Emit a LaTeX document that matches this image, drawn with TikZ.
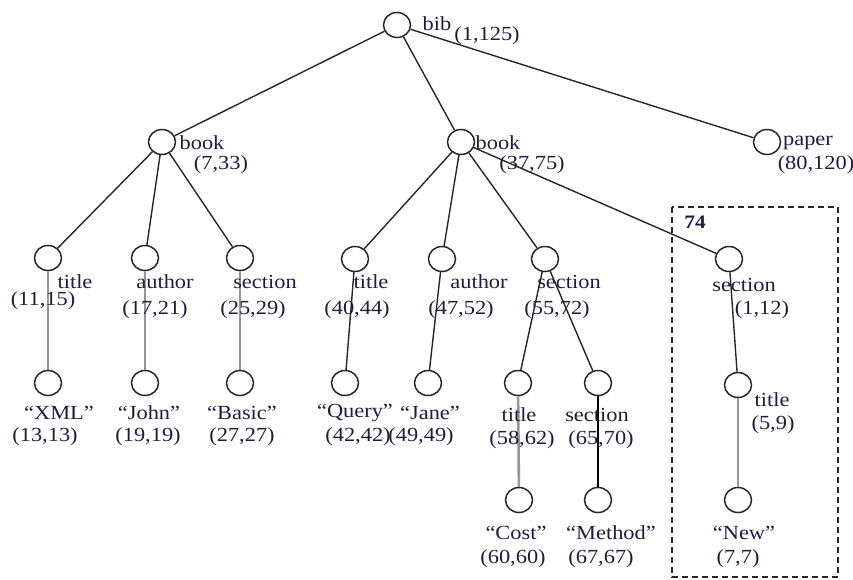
\documentclass[tikz,border=0pt]{standalone}
\usepackage{fontspec}
\setmainfont[FakeStretch=1.12]{Liberation Serif}
\usetikzlibrary{shapes.geometric}
\definecolor{txt}{RGB}{30,30,60}
\definecolor{lgray}{RGB}{150,150,150}
\begin{document}
\begin{tikzpicture}[x=1pt,y=-1pt,
  nd/.style={draw=black!85,line width=1.5pt,ellipse,minimum width=27pt,minimum height=25pt,inner sep=0pt},
  lbl/.style={text=txt,font=\fontsize{20}{23}\selectfont,inner sep=0pt},
  edge/.style={draw=black!85,line width=1.4pt},
  gedge/.style={draw=lgray,line width=2.6pt},
  bedge/.style={draw=black,line width=1.8pt}]
\useasboundingbox (0,0) rectangle (853,579);
% nodes
\node[nd] (bib) at (397,25) {};
\node[nd] (book1) at (162,142) {};
\node[nd] (book2) at (461,142) {};
\node[nd] (paper) at (767,142) {};
\node[nd] (title1) at (48,258) {};
\node[nd] (author1) at (145,258) {};
\node[nd] (section1) at (240,258) {};
\node[nd] (title2) at (355,259) {};
\node[nd] (author2) at (442,259) {};
\node[nd] (section2) at (545,259) {};
\node[nd] (section3) at (729,259) {};
\node[nd] (xml) at (48,383) {};
\node[nd] (john) at (145,383) {};
\node[nd] (basic) at (240,383) {};
\node[nd] (query) at (345,383) {};
\node[nd] (jane) at (428,383) {};
\node[nd] (title3) at (518,383) {};
\node[nd] (section4) at (598,383) {};
\node[nd] (title4) at (738,385) {};
\node[nd] (cost) at (519,500) {};
\node[nd] (method) at (598,500) {};
\node[nd] (new) at (738,500) {};
% dashed box
\draw[black!85,line width=1.4pt,dash pattern=on 6pt off 4pt] (672,207) rectangle (838,577);
\node[lbl,font=\fontsize{19}{22}\selectfont\bfseries] (n74) at (695,222) {74};
% edges
\draw[edge] (bib) -- (book1);
\draw[edge] (bib) -- (book2);
\draw[edge] (bib) -- (paper);
\draw[edge] (book1) -- (title1);
\draw[edge] (book1) -- (author1);
\draw[edge] (book1) -- (section1);
\draw[edge] (book2) -- (title2);
\draw[edge] (book2) -- (author2);
\draw[edge] (book2) -- (section2);
\draw[edge] (book2) -- (section3);
\draw[gedge] (title1) -- (xml);
\draw[gedge] (author1) -- (john);
\draw[gedge] (section1) -- (basic);
\draw[edge] (title2) -- (query);
\draw[edge] (author2) -- (jane);
\draw[edge] (section2) -- (title3);
\draw[edge] (section2) -- (section4);
\draw[edge] (section3) -- (title4);
\draw[gedge] (title3) -- (cost);
\draw[bedge] (section4) -- (method);
\draw[gedge] (title4) -- (new);
% labels
\node[lbl] (lbib) at (437,24) {bib};
\node[lbl] (rbib) at (487,36) {(1,125)};
\node[lbl] (lbook1) at (202,143) {book};
\node[lbl] (rbook1) at (221,165) {(7,33)};
\node[lbl] (lbook2) at (498,143) {book};
\node[lbl] (rbook2) at (532,165) {(37,75)};
\node[lbl] (lpaper) at (808,143) {paper};
\node[lbl] (rpaper) at (816,165) {(80,120)};
\node[lbl] (ltitle1) at (75,282) {title};
\node[lbl] (rtitle1) at (43,301) {(11,15)};
\node[lbl] (lauthor1) at (165,282) {author};
\node[lbl] (rauthor1) at (155,310) {(17,21)};
\node[lbl] (lsection1) at (265,282) {section};
\node[lbl] (rsection1) at (253,310) {(25,29)};
\node[lbl] (ltitle2) at (371,282) {title};
\node[lbl] (rtitle2) at (357,310) {(40,44)};
\node[lbl] (lauthor2) at (479,282) {author};
\node[lbl] (rauthor2) at (461,310) {(47,52)};
\node[lbl] (lsection2) at (569,282) {section};
\node[lbl] (rsection2) at (557,310) {(55,72)};
\node[lbl] (lsection3) at (744,285) {section};
\node[lbl] (rsection3) at (762,310) {(1,12)};
\node[lbl] (lxml) at (59,413) {“XML”};
\node[lbl] (rxml) at (45,437) {(13,13)};
\node[lbl] (ljohn) at (149,413) {“John”};
\node[lbl] (rjohn) at (148,437) {(19,19)};
\node[lbl] (lbasic) at (242,413) {“Basic”};
\node[lbl] (rbasic) at (242,437) {(27,27)};
\node[lbl] (lquery) at (355,413) {“Query”};
\node[lbl] (rquery) at (358,437) {(42,42)};
\node[lbl] (ljane) at (430,413) {“Jane”};
\node[lbl] (rjane) at (421,437) {(49,49)};
\node[lbl] (ltitle3) at (519,415) {title};
\node[lbl] (rtitle3) at (522,440) {(58,62)};
\node[lbl] (lsection4) at (597,415) {section};
\node[lbl] (rsection4) at (601,440) {(65,70)};
\node[lbl] (ltitle4) at (772,400) {title};
\node[lbl] (rtitle4) at (773,425) {(5,9)};
\node[lbl] (lcost) at (516,533) {“Cost”};
\node[lbl] (rcost) at (513,559) {(60,60)};
\node[lbl] (lmethod) at (611,533) {“Method”};
\node[lbl] (rmethod) at (601,559) {(67,67)};
\node[lbl] (lnew) at (744,533) {“New”};
\node[lbl] (rnew) at (738,559) {(7,7)};
\end{tikzpicture}
\end{document}
